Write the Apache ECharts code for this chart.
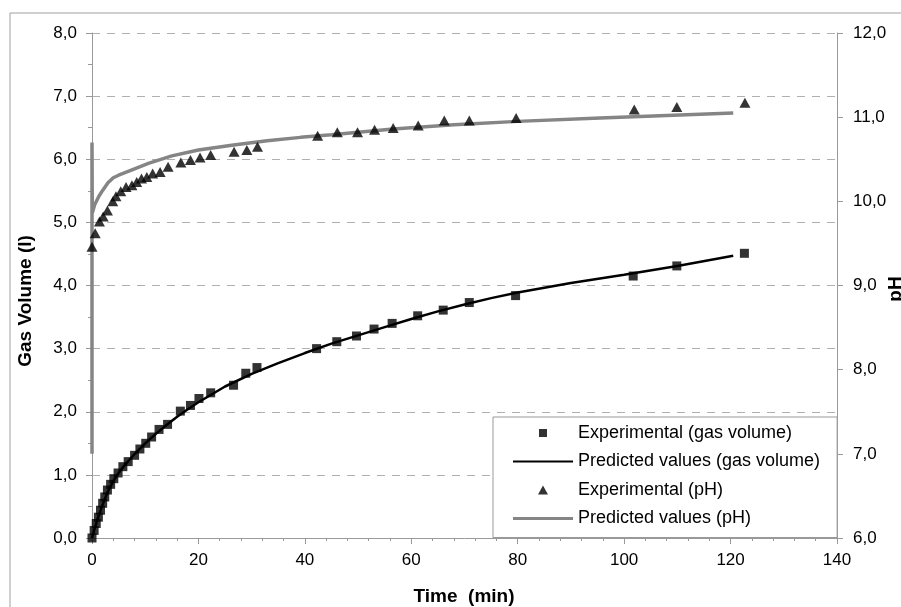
<!DOCTYPE html>
<html>
<head>
<meta charset="utf-8">
<script src="https://cdn.jsdelivr.net/npm/echarts@6/dist/echarts.min.js"></script>
<style>
    html, body { margin: 0; padding: 0; background: #fff; }
    #id-div-chart { width: 901px; height: 607px; }
</style>
</head>
<body>
<div id="id-div-chart"></div>
<script>
var log = console.log.bind(console)

var e = (selector) => document.querySelector(selector)

// 实验数据 (gas volume)
var gasExpTime = [0, 0.4, 0.8, 1.2, 1.6, 2.0, 2.4, 2.9, 3.5, 4.1, 4.9, 5.8, 6.8, 8.0, 9.0, 10.1, 11.2, 12.6, 14.2, 16.6, 18.5, 20.1, 22.3, 26.6, 28.9, 31.0, 42.2, 46.0, 49.7, 53.0, 56.4, 61.2, 66.0, 70.9, 79.6, 101.7, 109.9, 122.6]
var gasExpValue = [0.0, 0.12, 0.23, 0.33, 0.44, 0.55, 0.65, 0.76, 0.85, 0.94, 1.03, 1.13, 1.21, 1.31, 1.41, 1.50, 1.60, 1.72, 1.80, 2.01, 2.10, 2.21, 2.30, 2.42, 2.61, 2.70, 3.00, 3.11, 3.20, 3.31, 3.40, 3.52, 3.61, 3.73, 3.84, 4.15, 4.31, 4.51]

// 预测值 (gas volume)
var gasPredTime = [0, 0.5, 1, 2, 3, 4, 5, 6, 8, 10, 12, 14, 16, 18, 20, 25, 30, 35, 40, 45, 50, 55, 60, 65, 70, 75, 80, 90, 100, 110, 120.5]
var gasPredValue = [0, 0.15, 0.29, 0.53, 0.74, 0.90, 1.03, 1.14, 1.33, 1.50, 1.65, 1.79, 1.92, 2.04, 2.15, 2.40, 2.60, 2.77, 2.93, 3.08, 3.21, 3.34, 3.47, 3.59, 3.70, 3.80, 3.89, 4.04, 4.17, 4.31, 4.47]

// 实验数据 (pH)
var phExpTime = [0, 0.6, 1.4, 2.1, 2.9, 3.9, 4.5, 5.4, 6.4, 7.5, 8.4, 9.3, 10.3, 11.4, 12.8, 14.3, 16.7, 18.5, 20.3, 22.3, 26.7, 29.1, 31.1, 42.4, 46.1, 49.9, 53.1, 56.6, 61.3, 66.2, 70.9, 79.7, 101.9, 109.9, 122.7]
var phExpValue = [9.46, 9.62, 9.76, 9.82, 9.89, 10.0, 10.06, 10.12, 10.17, 10.19, 10.23, 10.27, 10.29, 10.33, 10.35, 10.41, 10.46, 10.49, 10.52, 10.55, 10.59, 10.61, 10.65, 10.78, 10.82, 10.82, 10.85, 10.87, 10.90, 10.96, 10.96, 10.99, 11.09, 11.12, 11.17]

// 预测值 (pH)
var phPredTime = [0, 0, 0.05, 0.5, 1.3, 2, 3, 4, 5, 7.4, 10.6, 15, 20, 26.6, 32.9, 39.2, 45, 56.6, 68, 80, 95.5, 108, 120.5]
var phPredValue = [7.0, 10.7, 9.86, 9.96, 10.06, 10.13, 10.22, 10.28, 10.31, 10.37, 10.45, 10.54, 10.61, 10.67, 10.72, 10.76, 10.79, 10.86, 10.91, 10.95, 10.99, 11.02, 11.05]

var seriesNames = ['Experimental (gas volume)', 'Predicted values (gas volume)', 'Experimental (pH)', 'Predicted values (pH)']

var zip = function(xs, ys) {
    var r = []
    for (var i = 0; i < xs.length; i++) {
        r.push([xs[i], ys[i]])
    }
    return r
}

var commaLabel = function(v) {
    return v.toFixed(1).replace('.', ',')
}

var font = 'Liberation Sans, Arial, sans-serif'
var gridColor = '#b0b0b0'
var axisColor = '#999999'

// 图例图标: 两端放极小的点撑开宽度, 中间是符号本身
var squareIcon = 'path://M0,4.5 L0.01,4.5 L0.01,4.51 Z M26,0.5 L34,0.5 L34,8.5 L26,8.5 Z M59.99,4.5 L60,4.5 L60,4.51 Z'
var triangleIcon = 'path://M0,9 L0.01,9 L0.01,8.99 Z M25,9 L30,0 L35,9 Z M59.99,9 L60,9 L60,8.99 Z'

var chartOption = function() {
    var option = {
        animation: false,
        backgroundColor: '#fff',
        grid: {
            left: 92,
            right: 64,
            top: 33,
            bottom: 69,
        },
        legend: {
            orient: 'vertical',
            left: 493,
            top: 417,
            itemWidth: 60,
            itemHeight: 9,
            itemGap: 10.5,
            padding: [7, 17, 10, 20],
            backgroundColor: '#fff',
            borderColor: axisColor,
            borderWidth: 1,
            textStyle: {
                fontFamily: font,
                fontSize: 18,
                color: '#000',
                lineHeight: 18,
            },
            data: [
                {name: seriesNames[0], icon: squareIcon},
                {name: seriesNames[1], icon: 'path://M0,0 L60,0 L60,2 L0,2 Z'},
                {name: seriesNames[2], icon: triangleIcon},
                {name: seriesNames[3], icon: 'path://M0,0 L60,0 L60,3 L0,3 Z'},
            ],
        },
        xAxis: {
            type: 'value',
            min: 0,
            max: 140,
            interval: 20,
            axisLine: {show: true, lineStyle: {color: axisColor}},
            axisTick: {show: true, length: 6, lineStyle: {color: axisColor}},
            minorTick: {show: true, splitNumber: 5, length: 3, lineStyle: {color: axisColor}},
            splitLine: {show: false},
            axisLabel: {
                margin: 14,
                fontFamily: font,
                fontSize: 17,
                color: '#000',
            },
        },
        yAxis: [
            {
                type: 'value',
                min: 0,
                max: 8,
                interval: 1,
                position: 'left',
                axisLine: {show: true, lineStyle: {color: axisColor}},
                axisTick: {show: true, length: 6, lineStyle: {color: axisColor}},
                minorTick: {show: true, splitNumber: 2, length: 4, lineStyle: {color: axisColor}},
                splitLine: {show: true, lineStyle: {color: gridColor, type: [8, 7]}},
                axisLabel: {
                    margin: 15,
                    fontFamily: font,
                    fontSize: 17,
                    color: '#000',
                    formatter: commaLabel,
                },
            },
            {
                type: 'value',
                min: 6,
                max: 12,
                interval: 1,
                position: 'right',
                axisLine: {show: true, lineStyle: {color: axisColor}},
                axisTick: {show: true, length: 6, lineStyle: {color: axisColor}},
                splitLine: {show: false},
                axisLabel: {
                    margin: 16,
                    fontFamily: font,
                    fontSize: 17,
                    color: '#000',
                    formatter: commaLabel,
                },
            },
        ],
        graphic: [
            {
                type: 'rect',
                shape: {x: 10, y: 13, width: 950, height: 700},
                style: {fill: 'none', stroke: '#a0a0a0', lineWidth: 1},
                silent: true,
                z: -1,
            },
            {
                type: 'text',
                x: 26,
                y: 301,
                rotation: Math.PI / 2,
                style: {
                    text: 'Gas Volume (l)',
                    font: 'bold 19px ' + font,
                    fill: '#000',
                    align: 'center',
                    verticalAlign: 'middle',
                },
            },
            {
                type: 'text',
                x: 896,
                y: 289,
                rotation: Math.PI / 2,
                style: {
                    text: 'pH',
                    font: 'bold 19px ' + font,
                    fill: '#000',
                    align: 'center',
                    verticalAlign: 'middle',
                },
            },
            {
                type: 'text',
                x: 464,
                y: 597,
                style: {
                    text: 'Time  (min)',
                    font: 'bold 19px ' + font,
                    fill: '#000',
                    align: 'center',
                    verticalAlign: 'middle',
                },
            },
        ],
        series: [
            {
                name: seriesNames[0],
                type: 'scatter',
                yAxisIndex: 0,
                symbol: 'rect',
                symbolSize: 9,
                itemStyle: {color: '#000'},
                data: zip(gasExpTime, gasExpValue),
                z: 4,
            },
            {
                name: seriesNames[1],
                type: 'line',
                yAxisIndex: 0,
                showSymbol: false,
                symbol: 'none',
                lineStyle: {color: '#000', width: 2.5},
                itemStyle: {color: '#000'},
                data: zip(gasPredTime, gasPredValue),
                z: 3,
            },
            {
                name: seriesNames[2],
                type: 'scatter',
                yAxisIndex: 1,
                symbol: 'triangle',
                symbolSize: [11, 10],
                itemStyle: {color: '#000'},
                data: zip(phExpTime, phExpValue),
                z: 4,
            },
            {
                name: seriesNames[3],
                type: 'line',
                yAxisIndex: 1,
                showSymbol: false,
                symbol: 'none',
                lineStyle: {color: '#858585', width: 3.5},
                itemStyle: {color: '#858585'},
                data: zip(phPredTime, phPredValue),
                z: 2,
            },
        ],
    }
    return option
}

var __main = function() {
    var chart = echarts.init(e('#id-div-chart'))
    chart.setOption(chartOption())
}

__main()
</script>
</body>
</html>
